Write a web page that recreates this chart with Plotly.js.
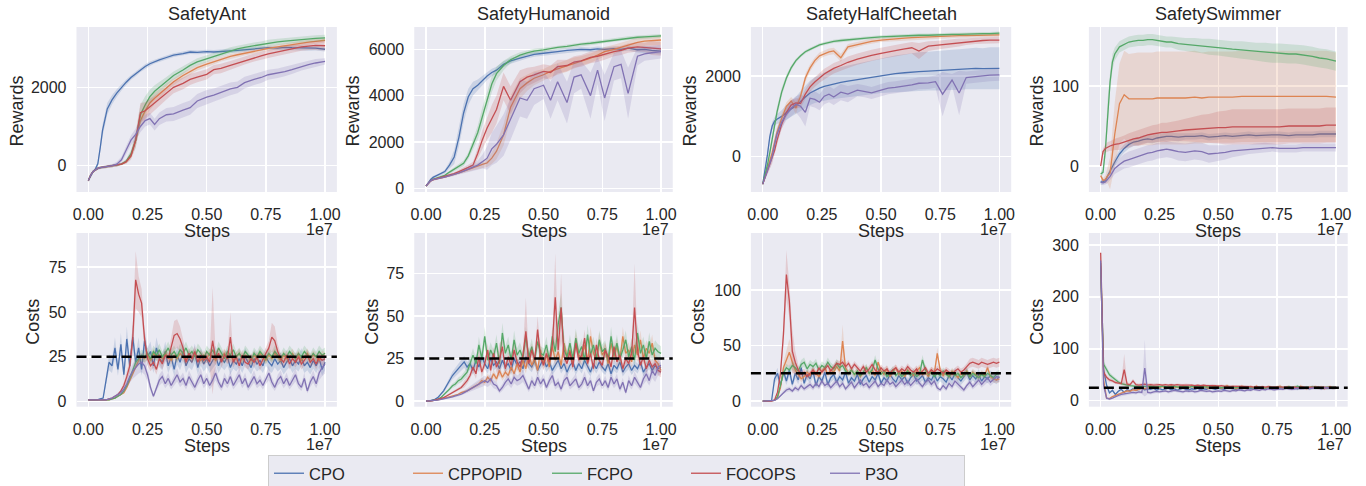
<!DOCTYPE html>
<html>
<head>
<meta charset="utf-8">
<script src="https://cdn.plot.ly/plotly-3.0.1.min.js"></script>
<style>html,body{margin:0;padding:0;background:#fff;overflow:hidden;}#chart{width:1366px;height:486px;}</style>
</head>
<body>
<div id="chart"></div>
<script>
// ---------------- DATA ----------------
const methods = ['CPO', 'CPPOPID', 'FCPO', 'FOCOPS', 'P3O'];
const environments = ['SafetyAnt', 'SafetyHumanoid', 'SafetyHalfCheetah', 'SafetySwimmer'];
const xTickValues = [0, 0.25, 0.5, 0.75, 1.0];
const xTickLabels = ['0.00', '0.25', '0.50', '0.75', '1.00'];
const stepsMultiplier = '1e7';
const costThreshold = 25;

// steps (in units of 1e7)
const stepsReward = [0,0.01,0.02,0.03,0.04,0.05,0.06,0.08,0.1,0.12,
  0.14,0.16,0.18,0.2,0.22,0.24,0.26,0.28,0.3,0.33,
  0.36,0.4,0.43,0.46,0.5,0.53,0.56,0.6,0.63,0.66,
  0.7,0.73,0.76,0.8,0.83,0.86,0.9,0.93,0.96,1.0];
const stepsCost = [0,0.0125,0.025,0.0375,0.05,0.0625,0.075,0.0875,0.1,0.1125,
  0.125,0.1375,0.15,0.1625,0.175,0.1875,0.2,0.2125,0.225,0.2375,
  0.25,0.2625,0.275,0.2875,0.3,0.3125,0.325,0.3375,0.35,0.3625,
  0.375,0.3875,0.4,0.4125,0.425,0.4375,0.45,0.4625,0.475,0.4875,
  0.5,0.5125,0.525,0.5375,0.55,0.5625,0.575,0.5875,0.6,0.6125,
  0.625,0.6375,0.65,0.6625,0.675,0.6875,0.7,0.7125,0.725,0.7375,
  0.75,0.7625,0.775,0.7875,0.8,0.8125,0.825,0.8375,0.85,0.8625,
  0.875,0.8875,0.9,0.9125,0.925,0.9375,0.95,0.9625,0.975,0.9875,
  1.0];

// ---- SafetyAnt rewards ----
const antRew_CPO = [-380,-250,-150,-80,50,450,900,1450,1680,1850, 2000,2130,2250,2340,2450,2530,2600,2660,2700,2760, 2820,2860,2900,2890,2910,2900,2920,2930,2940,2960, 2970,2990,3010,3000,3020,3010,3000,2990,3000,2970];
const antRew_CPPOPID = [-380,-240,-150,-100,-70,-50,-40,-20,-10,10, 40,100,250,650,1150,1400,1600,1720,1830,2000, 2140,2300,2400,2500,2590,2650,2720,2790,2830,2870, 2920,2950,2990,3030,3060,3090,3120,3150,3170,3200];
const antRew_FCPO = [-380,-240,-150,-100,-70,-50,-40,-20,-10,10, 40,120,300,650,1300,1550,1760,1900,2000,2150, 2300,2440,2560,2650,2730,2800,2860,2940,2980,3020, 3060,3090,3130,3160,3180,3200,3220,3240,3250,3260];
const antRew_FOCOPS = [-380,-240,-150,-100,-70,-50,-40,-20,-10,10, 40,100,250,650,1350,1400,1500,1600,1700,1850, 2000,2100,2200,2260,2330,2450,2480,2560,2620,2680, 2760,2800,2850,2900,2950,2980,3030,3050,3070,3060];
const antRew_P3O = [-380,-240,-150,-100,-70,-50,-40,-20,0,40, 150,400,650,800,1000,1150,1200,1050,1200,1300, 1320,1420,1480,1650,1750,1800,1870,1960,2000,2120, 2200,2250,2320,2360,2400,2450,2530,2580,2620,2660];
const antRewSd_CPO = [30,30,30,40,60,100,150,150,120,100, 80,70,60,60,60,60,60,50,50,50, 50,50,50,50,50,50,50,50,50,50, 50,50,50,50,60,60,60,60,60,60];
const antRewSd_CPPOPID = [30,30,30,30,30,30,30,30,30,30, 30,40,60,120,180,200,180,150,120,100, 90,80,80,70,70,70,60,60,60,60, 60,60,60,60,60,60,60,60,60,60];
const antRewSd_FCPO = [30,30,30,30,30,30,30,30,30,30, 30,50,100,180,250,220,180,150,130,110, 100,100,90,90,90,80,80,80,80,80, 80,80,80,80,80,80,80,80,80,80];
const antRewSd_FOCOPS = [30,30,30,30,30,30,30,30,30,30, 30,50,100,200,250,220,200,180,170,160, 150,150,140,130,130,120,120,110,110,100, 100,100,100,100,100,100,100,100,120,120];
const antRewSd_P3O = [30,30,30,30,30,30,30,30,40,60, 80,100,120,150,150,150,150,150,160,170, 180,180,180,180,180,170,170,160,150,150, 140,140,130,120,120,110,100,100,100,80];

// ---- SafetyHumanoid rewards ----
const humRew_CPO = [100,250,380,470,520,560,600,720,1000,1350, 2200,3250,3950,4300,4450,4650,4850,5000,5100,5350, 5500,5620,5700,5780,5830,5880,5900,5950,5970,6000, 5980,6020,6000,6030,6000,6050,5980,6000,5950,5920];
const humRew_CPPOPID = [100,220,320,370,400,420,440,480,530,590, 660,740,820,900,960,1030,1100,1300,1600,2300, 3500,4300,4550,4750,4900,5050,5150,5280,5400,5500, 5620,5750,5900,6000,6100,6200,6300,6350,6380,6400];
const humRew_FCPO = [100,230,330,390,430,460,490,560,700,820, 950,1080,1400,1900,2400,3100,3800,4500,4950,5300, 5550,5750,5850,5920,5970,6030,6080,6130,6180,6220, 6260,6300,6350,6420,6450,6480,6520,6540,6560,6580];
const humRew_FOCOPS = [100,220,320,370,400,420,450,500,560,630, 720,800,900,1000,1500,2100,2600,3000,3400,4400, 3800,4600,4800,4900,5050,5000,5250,5300,5450,5500, 5650,5700,5800,5900,5950,6050,6100,6080,6050,6020];
const humRew_P3O = [100,220,320,370,400,420,440,480,530,590, 660,740,820,900,1000,1150,1300,1700,1900,2300, 3000,3900,3800,4300,4450,3800,4600,3700,4800,4900, 4000,5100,3900,5250,5350,4100,5700,5800,5850,5900];
const humRewSd_CPO = [30,40,50,60,60,60,60,80,150,300, 400,400,350,300,250,200,180,160,150,130, 120,110,100,100,100,100,100,100,100,100, 100,100,100,100,100,100,120,150,150,150];
const humRewSd_CPPOPID = [30,30,30,30,30,30,30,40,50,60, 70,80,100,120,130,150,180,250,350,450, 500,450,350,300,250,250,250,250,250,200, 200,200,200,200,200,200,200,200,200,200];
const humRewSd_FCPO = [30,30,30,40,40,40,40,50,60,80, 100,120,150,200,300,400,400,350,300,200, 150,120,100,100,100,80,80,80,80,80, 80,80,80,80,80,80,80,80,80,80];
const humRewSd_FOCOPS = [30,30,30,30,30,30,30,40,50,60, 80,100,120,150,250,400,500,600,600,600, 600,500,400,350,300,300,300,250,250,250, 250,250,250,200,200,200,200,200,300,300];
const humRewSd_P3O = [30,30,30,30,30,30,30,40,50,60, 70,80,100,150,200,300,500,700,800,900, 900,800,800,700,600,800,800,900,700,600, 1000,600,1000,600,600,1100,400,300,300,300];

// ---- SafetyHalfCheetah rewards ----
const hcRew_CPO = [-680,-350,50,500,760,880,930,1000,1100,1180, 1260,1380,1480,1580,1650,1700,1740,1770,1800,1840, 1870,1910,1940,1970,2010,2040,2060,2080,2100,2110, 2120,2130,2140,2150,2160,2170,2190,2180,2190,2190];
const hcRew_CPPOPID = [-680,-500,-300,-100,100,350,600,950,1250,1380, 1200,1500,1950,2200,2380,2500,2560,2600,2620,2450, 2720,2780,2830,2860,2890,2910,2920,2940,2950,2960, 2970,2980,2990,2990,3000,3000,3010,3010,3010,3020];
const hcRew_FCPO = [-680,-450,-200,100,450,800,1100,1600,1950,2200, 2380,2500,2600,2660,2720,2770,2800,2830,2860,2880, 2900,2920,2940,2950,2970,2980,2990,3000,3000,3010, 3010,3020,3020,3030,3030,3040,3040,3050,3050,3060];
const hcRew_FOCOPS = [-680,-520,-350,-200,-50,150,400,800,1100,1280, 1330,1320,1550,1730,1850,1950,2050,2120,2190,2260, 2340,2420,2470,2510,2560,2600,2630,2670,2700,2620, 2740,2760,2780,2810,2830,2850,2870,2880,2890,2890];
const hcRew_P3O = [-680,-520,-350,-200,0,300,550,850,1050,1200, 1300,1250,1100,1450,1420,1350,1500,1550,1480,1600, 1550,1650,1620,1580,1650,1700,1720,1750,1780,1820, 1830,1860,1550,1900,1580,1960,1990,2000,2020,2030];
const hcRewSd_CPO = [20,50,80,100,100,100,120,150,180,200, 220,250,280,300,320,340,350,360,370,380, 390,400,410,420,430,440,450,460,470,480, 480,490,490,500,500,500,510,510,520,520];
const hcRewSd_CPPOPID = [20,50,80,100,120,120,120,120,100,100, 150,100,100,90,80,80,80,80,80,100, 70,60,60,60,50,50,50,50,50,50, 50,50,50,50,50,50,50,50,50,50];
const hcRewSd_FCPO = [20,50,80,100,120,120,120,100,80,60, 50,40,40,40,40,40,40,40,40,40, 40,40,40,40,40,40,40,40,40,40, 40,40,40,40,40,40,40,40,40,40];
const hcRewSd_FOCOPS = [20,50,80,100,120,120,120,120,120,120, 120,120,120,120,120,120,130,130,130,130, 140,140,140,140,140,140,140,140,140,200, 120,110,100,100,100,80,80,80,80,80];
const hcRewSd_P3O = [20,50,80,100,120,150,150,150,150,200, 200,300,350,200,200,200,200,200,200,200, 200,150,150,150,150,150,150,150,150,150, 150,150,550,150,550,150,150,150,150,150];

// ---- SafetySwimmer rewards ----
const swRew_CPO = [-20,-20,-18,-12,-5,0,5,15,22,27, 30,31,33,34,33,35,36,37,37,36, 37,37,38,36,37,38,37,38,39,38, 39,39,39,38,39,39,39,40,40,40];
const swRew_CPPOPID = [-12,-18,-17,-12,-9,15,40,78,89,84, 84,84,84,84,84,85,85,85,85,85, 85,86,85,86,86,86,86,87,87,87, 87,87,87,87,87,87,87,87,87,86];
const swRew_FCPO = [-10,-8,20,70,105,130,140,149,152,155, 156,157,157,158,158,157,156,155,155,153, 152,151,150,149,148,147,146,145,144,143, 142,141,141,140,140,139,137,135,134,131];
const swRew_FOCOPS = [0,18,22,24,25,26,27,28,30,32, 34,35,37,39,40,41,42,42,43,44, 45,46,47,47,48,48,49,49,49,49, 49,49,49,50,50,50,50,50,51,51];
const swRew_P3O = [-20,-21,-20,-17,-13,-8,-3,2,6,8, 10,12,14,16,17,19,20,21,20,18, 17,19,18,15,16,17,19,20,21,22, 23,23,22,22,22,23,23,23,23,23];
const swRewSd_CPO = [3,3,3,3,4,5,5,5,5,5, 5,5,5,5,5,5,5,5,5,5, 4,4,4,4,4,4,4,4,4,4, 4,4,4,4,4,4,4,4,4,4];
const swRewSd_CPPOPID = [3,3,5,10,20,30,40,50,55,56, 57,58,58,58,58,58,58,58,58,58, 58,58,57,57,57,57,57,57,57,57, 57,57,57,57,57,57,57,57,57,56];
const swRewSd_FCPO = [3,3,10,15,12,10,8,7,7,7, 7,7,7,7,7,7,7,7,7,8, 8,9,9,10,10,10,10,11,11,11, 12,12,12,12,12,12,12,12,12,12];
const swRewSd_FOCOPS = [3,4,5,6,6,7,7,8,8,9, 9,10,10,10,11,11,12,12,12,13, 14,16,17,18,20,21,22,22,22,22, 22,22,22,22,22,22,22,22,22,22];
const swRewSd_P3O = [3,3,3,4,5,6,7,8,9,10, 10,10,10,10,10,10,10,10,10,11, 11,11,11,11,10,9,8,7,6,6, 6,5,5,5,5,5,5,5,5,5];

// ---- SafetyAnt costs ----
const antCost_CPO = [1,1,1,1,1.5,2,12,22,20,30, 18,32,15,35,20,36,22,30,18,34, 25,28,20,30,24,22,28,20,25,18, 26,22,28,20,24,22,27,19,25,21, 24,20,23,26,20,24,22,25,19,23, 21,24,20,25,22,19,24,21,23,20, 25,22,20,24,21,23,19,22,24,20, 23,21,25,20,22,19,23,20,24,18, 22];
const antCost_CPPOPID = [1,1,1,1,1,1,1,1,1.5,2, 3,4,5,8,12,16,20,23,25,24, 26,23,27,25,26,24,27,25,23,26, 24,27,25,23,26,24,27,25,23,26, 24,27,25,23,26,25,27,24,26,23, 25,27,24,26,25,23,26,24,27,25, 23,26,24,27,25,23,26,24,25,27, 24,26,23,25,27,24,26,25,23,26, 25];
const antCost_FCPO = [1,1,1,1,1,1,1,1,1.5,2, 3,4,6,9,13,17,22,24,26,25, 27,24,28,26,29,25,27,30,26,28, 25,29,27,30,26,28,25,29,27,24, 28,26,29,25,30,27,24,28,26,29, 25,27,24,28,26,23,27,25,28,26, 24,27,25,28,26,24,27,25,28,26, 24,27,25,28,26,24,27,25,28,26, 27];
const antCost_FOCOPS = [1,1,1,1,1,1,1,1.5,2,3, 4,6,9,14,20,35,68,60,55,35, 24,20,22,18,24,21,26,24,30,37, 38,35,30,22,27,24,28,22,26,23, 25,22,34,24,27,22,26,24,36,22, 25,20,26,22,21,24,22,25,20,24, 27,30,36,34,28,24,22,26,21,24, 22,25,21,23,26,22,24,21,25,23, 24];
const antCost_P3O = [1,1,1,1,1,1,1,1.5,2,3, 4,5,7,10,14,17,19,21,22,20, 15,8,3,8,12,14,10,13,9,12, 15,11,13,9,14,11,8,12,15,10, 13,9,12,16,11,8,13,10,14,9, 12,15,10,13,8,11,14,10,12,9, 13,16,11,8,12,14,10,13,9,12, 15,10,8,13,6,11,14,10,16,19, 21];
// a number = relative spread (fraction of the mean); an array = absolute spread per step
const antCostSd_CPO = 0.2;
const antCostSd_CPPOPID = 0.1;
const antCostSd_FCPO = 0.12;
const antCostSd_FOCOPS = [0.1,0.1,0.1,0.1,0.1,0.1,0.1,0.2,0.3,0.4, 0.6,1,2,3,4,8,16,10,8,5, 4,3,3,3,3,3,3,3,5,8, 8,7,5,3,3,3,3,3,3,3, 3,3,30,4,3,3,3,3,14,3, 3,3,3,3,3,3,3,3,3,3, 3,4,8,8,4,3,3,3,3,3, 3,3,3,3,3,3,3,3,3,3, 3];
const antCostSd_P3O = 0.25;

// ---- SafetyHumanoid costs ----
const humCost_CPO = [0,0,0.5,1,2,4,6,9,12,15, 17,19,21,23,20,22,18,24,20,26, 22,19,25,21,23,19,24,20,22,18, 25,21,23,19,26,22,20,24,18,22, 25,20,23,18,21,24,19,22,17,21, 23,18,22,19,24,20,17,22,19,23, 20,18,22,16,21,19,23,17,20,22, 18,21,19,23,17,20,22,18,21,19, 20];
const humCost_CPPOPID = [0,0,0.2,0.4,0.7,1,1.5,2,2.5,3, 3.5,4,5,5.5,6,7,8,9,10,12, 11,14,12,16,13,18,14,17,15,20, 16,22,17,24,19,28,21,25,18,30, 22,27,20,32,24,29,21,34,26,30, 22,36,27,25,33,23,38,28,24,35, 27,30,22,34,26,32,24,38,28,30, 23,33,27,36,25,31,28,34,24,22, 18];
const humCost_FCPO = [0,0,0.3,0.6,1,2,3.5,5,7,9, 10,12,13,15,17,22,27,22,33,25, 38,24,30,26,34,22,40,28,33,24, 36,27,30,25,38,26,32,24,35,28, 27,33,24,38,29,45,55,30,26,34, 25,37,28,32,24,39,27,33,25,36, 29,31,24,38,27,34,25,30,36,26, 32,24,40,28,33,25,35,27,31,29, 28];
const humCost_FOCOPS = [0,0,0.2,0.5,1,1.5,2,3,4,5, 6,7,8,10,12,15,20,16,26,17, 22,30,18,28,20,24,32,19,26,21, 30,23,20,27,41,22,30,24,42,26, 21,28,23,33,61,30,55,26,22,29, 20,34,24,27,37,22,28,19,33,24, 21,30,26,20,32,23,27,19,25,22, 28,55,30,21,26,19,24,20,22,18, 17];
const humCost_P3O = [0,0,0.2,0.4,0.6,0.9,1.2,1.6,2,2.5, 3,3.5,4,5,6,7,8,9,10,11, 12,11,13,10,9,6,8,11,13,10, 14,12,13,15,11,7,12,9,14,10, 13,8,12,15,9,11,7,12,14,9, 11,13,8,10,14,9,12,6,11,13, 9,12,8,14,10,13,7,11,5,12, 9,14,11,8,13,16,12,18,15,20, 21];
const humCostSd_CPO = 0.15;
const humCostSd_CPPOPID = 0.15;
const humCostSd_FCPO = 0.15;
const humCostSd_FOCOPS = [0,0,0.05,0.1,0.2,0.3,0.4,0.5,0.6,0.8, 1,1,1,2,2,2,3,3,4,3, 3,4,3,4,3,10,4,3,3,3, 4,3,3,3,20,3,4,3,8,3, 3,3,3,4,26,4,20,3,3,3, 3,4,3,3,5,3,3,3,4,3, 3,4,3,3,4,3,3,3,3,3, 3,26,4,3,3,3,3,3,3,3, 3];
const humCostSd_P3O = 0.25;

// ---- SafetyHalfCheetah costs ----
const hcCost_CPO = [0,0,0,0.5,20,25,14,27,18,28, 15,25,19,30,16,24,20,27,14,22, 18,26,15,21,24,17,22,19,26,16, 21,18,24,15,20,23,17,22,19,25, 16,21,18,24,20,17,23,19,22,16, 21,24,18,20,23,17,21,19,24,18, 22,20,17,23,19,25,21,18,22,26, 19,23,20,24,18,22,20,23,21,19, 22];
const hcCost_CPPOPID = [0,0,0,0,0.5,3,12,30,38,44, 35,28,24,20,22,26,23,28,25,22, 27,30,24,28,26,31,27,54,30,25, 28,24,27,22,26,30,25,28,23,35, 27,24,29,22,26,30,24,27,22,28, 25,23,27,30,24,26,22,28,25,43, 28,23,26,22,27,24,21,25,23,27, 22,26,24,21,25,23,30,22,20,19, 20];
const hcCost_FCPO = [0,0,0,0,0.5,4,15,25,30,28, 32,30,27,33,35,29,33,31,34,28, 32,30,35,31,29,34,30,32,27,25, 28,24,27,23,26,30,25,28,37,29, 24,27,22,25,28,23,26,22,25,27, 23,26,22,24,37,28,24,26,22,25, 23,27,24,22,26,23,25,21,24,26, 22,25,23,21,24,22,25,23,21,24, 25];
const hcCost_FOCOPS = [0,0,0,0,1,8,25,60,114,90, 45,35,28,24,26,22,25,28,24,30, 26,29,32,27,30,34,33,35,31,34, 29,33,30,27,31,26,29,33,28,26, 30,27,29,25,28,30,26,29,27,31, 28,26,29,24,27,30,25,28,26,29, 27,25,28,26,24,27,29,26,28,31, 34,35,34,33,35,34,33,34,35,34, 35];
const hcCost_P3O = [0,0,0,0,0.5,2,5,8,10,11, 9,12,10,14,11,13,15,12,16,13, 18,14,16,12,15,18,13,16,11,14, 17,12,15,19,14,16,12,15,18,13, 16,14,19,15,17,13,16,19,15,18, 14,17,20,16,13,17,19,15,18,12, 10,14,11,16,13,18,15,12,10,14, 17,13,16,19,15,18,21,17,20,22, 21];
const hcCostSd_CPO = 0.2;
const hcCostSd_CPPOPID = [0,0,0,0,0.1,0.5,2,5,8,12, 8,5,3,3,3,3,3,3,3,3, 3,3,3,3,3,3,3,15,4,3, 3,3,3,3,3,3,3,3,3,3, 3,3,3,3,3,3,3,3,3,3, 3,3,3,3,3,3,3,3,3,5, 3,3,3,3,3,3,3,3,3,3, 3,3,3,3,3,3,3,3,3,3, 3];
const hcCostSd_FCPO = 0.12;
const hcCostSd_FOCOPS = [0,0,0,0,0.2,1,4,10,22,15, 20,10,5,3,3,3,3,3,3,3, 3,3,3,3,3,3,3,3,3,3, 3,3,3,3,3,3,3,3,3,3, 3,3,3,3,3,3,3,3,3,3, 3,3,3,3,3,3,3,3,3,3, 3,3,3,3,3,3,3,3,3,3, 4,4,4,4,4,4,4,4,4,4, 4];
const hcCostSd_P3O = 0.2;

// ---- SafetySwimmer costs ----
const swCost_CPO = [255,60,30,15,20,12,18,22,16,21, 19,23,20,22,24,21,23,22,24,20, 23,21,22,24,21,23,20,22,24,22, 21,23,22,24,21,23,22,25,23,22, 24,23,22,25,24,23,22,24,23,25, 24,23,24,25,24,23,25,24,24,25, 23,24,25,24,24,25,24,23,25,24, 25,24,26,24,25,24,25,24,25,24, 25];
const swCost_CPPOPID = [260,40,5,4,8,10,13,15,17,19, 18,21,20,22,24,23,25,26,24,27, 25,28,24,26,29,25,27,24,28,26, 25,29,24,27,26,28,25,24,27,26, 28,24,26,29,25,27,23,26,28,25, 24,27,25,28,24,26,23,27,25,24, 26,28,24,25,27,23,26,24,28,25, 23,26,25,27,24,26,23,25,27,24, 25];
const swCost_FCPO = [265,70,60,50,45,40,36,33,31,30, 29,28,28,27,28,27,27,28,27,26, 27,28,27,26,27,28,26,27,26,27, 26,27,28,26,27,26,27,26,25,27, 26,25,26,27,25,26,25,26,25,24, 25,26,24,25,26,25,24,26,25,24, 25,26,25,24,27,25,26,28,25,24, 26,25,27,25,26,24,25,26,25,26, 25];
const swCost_FOCOPS = [285,55,45,40,38,35,34,33,60,32, 31,38,31,30,31,32,30,31,30,31, 31,30,31,30,31,30,31,30,30,31, 30,30,29,30,29,30,29,29,30,29, 28,29,28,28,27,28,28,27,28,27, 27,27,26,27,26,27,26,27,26,26, 26,27,26,26,25,26,26,25,26,26, 25,26,26,25,26,25,26,25,26,25, 26];
const swCost_P3O = [270,30,5,3,5,8,10,12,13,14, 15,16,15,17,16,63,16,15,17,18, 17,18,19,17,18,20,19,18,17,19, 18,19,17,18,20,19,18,19,17,18, 19,18,20,19,18,20,19,21,20,19, 21,20,22,21,20,22,21,23,22,21, 22,23,22,24,23,22,23,24,23,24, 24,23,24,25,24,23,24,25,24,24, 25];
const swCostSd_CPO = 0.12;
const swCostSd_CPPOPID = 0.12;
const swCostSd_FCPO = 0.1;
const swCostSd_FOCOPS = [8,10,5,4,3,3,3,3,30,3, 3,4,3,3,3,3,3,3,3,3, 2,2,2,2,2,2,2,2,2,2, 2,2,2,2,2,2,2,2,2,2, 2,2,2,2,2,2,2,2,2,2, 2,2,2,2,2,2,2,2,2,2, 2,2,2,2,2,2,2,2,2,2, 2,2,2,2,2,2,2,2,2,2, 2];
const swCostSd_P3O = [10,8,3,2,2,2,3,3,3,3, 3,3,3,3,3,55,3,3,3,3, 3,3,3,3,3,3,3,3,3,3, 3,3,3,3,3,3,3,3,3,3, 3,3,3,3,3,3,3,3,3,3, 3,3,3,3,3,3,3,3,3,3, 3,3,3,3,3,3,3,3,3,3, 3,3,3,3,3,3,3,3,3,3, 3];

// ---------------- STYLE / LAYOUT ----------------
const colors = ['#4c72b0', '#dd8452', '#55a868', '#c44e52', '#8172b3'];
const W = 1366, H = 486;
const colPx = [[76.5, 336.9], [414.25, 672.75], [750.9, 1011.2], [1088.9, 1347.7]];
const rowPx = [[27, 192], [233, 406.7]];
const FONT = 'Liberation Sans, Arial, Helvetica, sans-serif';
const TXT = '#262626';

const panels = [
  {row:0, col:0, label:'Rewards', x:stepsReward, mean:[antRew_CPO, antRew_CPPOPID, antRew_FCPO, antRew_FOCOPS, antRew_P3O], sd:[antRewSd_CPO, antRewSd_CPPOPID, antRewSd_FCPO, antRewSd_FOCOPS, antRewSd_P3O], range:[-671, 3538], ticks:[0, 2000], ylabX:17},
  {row:0, col:1, label:'Rewards', x:stepsReward, mean:[humRew_CPO, humRew_CPPOPID, humRew_FCPO, humRew_FOCOPS, humRew_P3O], sd:[humRewSd_CPO, humRewSd_CPPOPID, humRewSd_FCPO, humRewSd_FOCOPS, humRewSd_P3O], range:[-160, 6962], ticks:[0, 2000, 4000, 6000], ylabX:353},
  {row:0, col:2, label:'Rewards', x:stepsReward, mean:[hcRew_CPO, hcRew_CPPOPID, hcRew_FCPO, hcRew_FOCOPS, hcRew_P3O], sd:[hcRewSd_CPO, hcRewSd_CPPOPID, hcRewSd_FCPO, hcRewSd_FOCOPS, hcRewSd_P3O], range:[-875, 3214], ticks:[0, 2000], ylabX:690},
  {row:0, col:3, label:'Rewards', x:stepsReward, mean:[swRew_CPO, swRew_CPPOPID, swRew_FCPO, swRew_FOCOPS, swRew_P3O], sd:[swRewSd_CPO, swRewSd_CPPOPID, swRewSd_FCPO, swRewSd_FOCOPS, swRewSd_P3O], range:[-32.5, 173.75], ticks:[0, 100], ylabX:1037},
  {row:1, col:0, label:'Costs', x:stepsCost, mean:[antCost_CPO, antCost_CPPOPID, antCost_FCPO, antCost_FOCOPS, antCost_P3O], sd:[antCostSd_CPO, antCostSd_CPPOPID, antCostSd_FCPO, antCostSd_FOCOPS, antCostSd_P3O], range:[-2.8, 94.1], ticks:[0, 25, 50, 75], ylabX:33, threshold:costThreshold},
  {row:1, col:1, label:'Costs', x:stepsCost, mean:[humCost_CPO, humCost_CPPOPID, humCost_FCPO, humCost_FOCOPS, humCost_P3O], sd:[humCostSd_CPO, humCostSd_CPPOPID, humCostSd_FCPO, humCostSd_FOCOPS, humCostSd_P3O], range:[-3.3, 98.7], ticks:[0, 25, 50, 75], ylabX:372, threshold:costThreshold},
  {row:1, col:2, label:'Costs', x:stepsCost, mean:[hcCost_CPO, hcCost_CPPOPID, hcCost_FCPO, hcCost_FOCOPS, hcCost_P3O], sd:[hcCostSd_CPO, hcCostSd_CPPOPID, hcCostSd_FCPO, hcCostSd_FOCOPS, hcCostSd_P3O], range:[-5.1, 151.4], ticks:[0, 50, 100], ylabX:698, threshold:costThreshold},
  {row:1, col:3, label:'Costs', x:stepsCost, mean:[swCost_CPO, swCost_CPPOPID, swCost_FCPO, swCost_FOCOPS, swCost_P3O], sd:[swCostSd_CPO, swCostSd_CPPOPID, swCostSd_FCPO, swCostSd_FOCOPS, swCostSd_P3O], range:[-11.6, 323], ticks:[0, 100, 200, 300], ylabX:1037, threshold:costThreshold}
];

function rgba(hex, a) {
  const n = parseInt(hex.slice(1), 16);
  return 'rgba(' + ((n >> 16) & 255) + ',' + ((n >> 8) & 255) + ',' + (n & 255) + ',' + a + ')';
}
// absolute spread array, or relative spread (fraction of the mean)
function spreadOf(s, mu) { return Array.isArray(s) ? s : mu.map(v => Math.abs(v) * s); }
const px2x = p => p / W;
const px2y = p => 1 - p / H;

const traces = [];
const layout = {
  width: W, height: H,
  margin: {l:0, r:0, t:0, b:0, autoexpand: false},
  paper_bgcolor: '#ffffff',
  plot_bgcolor: '#eaeaf2',
  font: {family: FONT, color: TXT, size: 16},
  showlegend: true,
  legend: {
    orientation: 'h', x: px2x(268), y: px2y(455), xanchor: 'left', yanchor: 'top',
    bgcolor: '#eaeaf2', bordercolor: '#cccccc', borderwidth: 1,
    font: {family: FONT, size: 16.5, color: TXT},
    entrywidth: 94, entrywidthmode: 'pixels', traceorder: 'normal'
  },
  annotations: [], shapes: []
};

panels.forEach((p, k) => {
  const n = k + 1;
  const xa = 'x' + (n === 1 ? '' : n), ya = 'y' + (n === 1 ? '' : n);
  const cx = colPx[p.col], ry = rowPx[p.row];
  layout['xaxis' + (n === 1 ? '' : n)] = {
    domain: [px2x(cx[0]), px2x(cx[1])], anchor: ya, range: [-0.05, 1.05],
    tickvals: xTickValues, ticktext: xTickLabels, ticks: '', ticklabelstandoff: 11,
    showgrid: true, gridcolor: '#ffffff', gridwidth: 1.5, zeroline: false, showline: false,
    tickfont: {family: FONT, size: 16, color: TXT}, fixedrange: true, automargin: false
  };
  layout['yaxis' + (n === 1 ? '' : n)] = {
    domain: [px2y(ry[1]), px2y(ry[0])], anchor: xa, range: p.range,
    tickvals: p.ticks, ticks: '', ticklabelstandoff: 9,
    showgrid: true, gridcolor: '#ffffff', gridwidth: 1.5, zeroline: false, showline: false,
    tickfont: {family: FONT, size: 16, color: TXT}, fixedrange: true, automargin: false
  };
  methods.forEach((m, j) => {
    const mu = p.mean[j];
    const s = spreadOf(p.sd[j], mu);
    const up = mu.map((v, i) => v + s[i]);
    const lo = mu.map((v, i) => v - s[i]);
    traces.push({
      type: 'scatter', mode: 'lines', xaxis: xa, yaxis: ya,
      x: p.x.concat(p.x.slice().reverse()), y: up.concat(lo.slice().reverse()),
      fill: 'toself', fillcolor: rgba(colors[j], 0.2), line: {width: 0, color: rgba(colors[j], 0)},
      hoverinfo: 'skip', showlegend: false, legendgroup: m
    });
    traces.push({
      type: 'scatter', mode: 'lines', xaxis: xa, yaxis: ya,
      x: p.x, y: mu, name: m, legendgroup: m, showlegend: k === 0,
      line: {color: colors[j], width: 1.3}
    });
  });
  if (p.threshold !== undefined) {
    layout.shapes.push({
      type: 'line', xref: xa + ' domain', yref: ya, x0: 0, x1: 1, y0: p.threshold, y1: p.threshold,
      line: {color: '#000000', width: 2.5, dash: '10px,5px'}, layer: 'above'
    });
  }
  const midX = (cx[0] + cx[1]) / 2;
  if (p.row === 0) {
    layout.annotations.push({text: environments[p.col], xref: 'paper', yref: 'paper', x: px2x(midX), y: px2y(14), xanchor: 'center', yanchor: 'middle', showarrow: false, font: {family: FONT, size: 18, color: TXT}});
  }
  const stepsY = p.row === 0 ? 231 : 446;
  layout.annotations.push({text: 'Steps', xref: 'paper', yref: 'paper', x: px2x(midX), y: px2y(stepsY), xanchor: 'center', yanchor: 'middle', showarrow: false, font: {family: FONT, size: 18, color: TXT}});
  layout.annotations.push({text: stepsMultiplier, xref: 'paper', yref: 'paper', x: px2x(cx[1] - 2), y: px2y(stepsY - 2), xanchor: 'right', yanchor: 'middle', showarrow: false, font: {family: FONT, size: 16, color: TXT}});
  layout.annotations.push({text: p.label, xref: 'paper', yref: 'paper', x: px2x(p.ylabX), y: px2y((ry[0] + ry[1]) / 2 + 2), xanchor: 'center', yanchor: 'middle', textangle: -90, showarrow: false, font: {family: FONT, size: 18, color: TXT}});
});

Plotly.newPlot('chart', traces, layout, {staticPlot: true, displayModeBar: false});
</script>
</body>
</html>
